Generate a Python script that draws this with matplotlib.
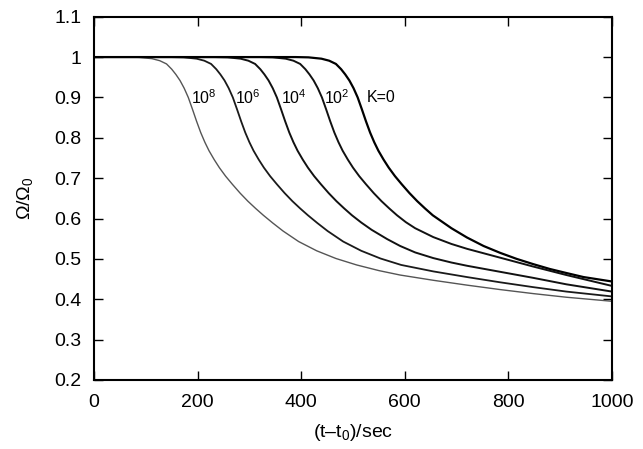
import matplotlib
matplotlib.use("Agg")
import matplotlib.pyplot as plt

plt.rcParams['font.family'] = ['Liberation Sans', 'DejaVu Sans']
plt.rcParams['mathtext.fontset'] = 'custom'
plt.rcParams['mathtext.rm'] = 'Liberation Sans'
plt.rcParams['mathtext.it'] = 'Liberation Sans'

# values (time in s, Omega/Omega_0)
t_k8 = [0, 62, 87, 112, 127, 140, 150, 158, 166, 174, 182, 190, 198, 206, 214, 222, 232, 242, 254, 267, 282,
        297, 312, 327, 345, 365, 395, 430, 467, 507, 550, 591, 655, 720, 784, 848, 912, 1000]
w_k8 = [1.0, 1.0, 0.9993, 0.996, 0.991, 0.983, 0.970, 0.957, 0.942, 0.923, 0.900, 0.871, 0.841, 0.813,
        0.789, 0.768, 0.746, 0.726, 0.705, 0.685, 0.663, 0.643, 0.625, 0.608, 0.589, 0.569, 0.543, 0.520,
        0.501, 0.485, 0.471, 0.460, 0.447, 0.435, 0.424, 0.414, 0.405, 0.395]

t_k6 = [0, 148, 173, 198, 213, 226, 236, 244, 252, 260, 268, 276, 284, 292, 300, 308, 318, 328, 340, 353,
        368, 383, 398, 413, 431, 451, 481, 516, 553, 593, 655, 720, 784, 848, 912, 1000]
w_k6 = [1.0, 1.0, 0.9993, 0.996, 0.991, 0.983, 0.970, 0.957, 0.942, 0.923, 0.900, 0.871, 0.841, 0.813,
        0.789, 0.768, 0.746, 0.726, 0.705, 0.685, 0.663, 0.643, 0.625, 0.608, 0.589, 0.569, 0.543, 0.520,
        0.501, 0.485, 0.469, 0.455, 0.442, 0.430, 0.419, 0.407]

t_k4 = [0, 233, 258, 283, 298, 311, 321, 329, 337, 345, 353, 361, 369, 377, 385, 393, 403, 413, 425, 438,
        453, 468, 483, 498, 516, 536, 566, 591, 620, 655, 690, 720, 784, 848, 912, 1000]
w_k4 = [1.0, 1.0, 0.9993, 0.996, 0.991, 0.983, 0.970, 0.957, 0.942, 0.923, 0.900, 0.871, 0.841, 0.813,
        0.789, 0.768, 0.746, 0.726, 0.705, 0.685, 0.663, 0.643, 0.625, 0.608, 0.590, 0.572, 0.549, 0.532,
        0.516, 0.502, 0.491, 0.483, 0.468, 0.453, 0.437, 0.419]

t_k2 = [0, 320, 345, 370, 385, 398, 408, 416, 424, 432, 440, 448, 456, 464, 472, 480, 490, 500, 512, 525,
        540, 555, 570, 585, 602, 620, 655, 690, 720, 784, 848, 912, 1000]
w_k2 = [1.0, 1.0, 0.9993, 0.996, 0.991, 0.983, 0.970, 0.957, 0.942, 0.923, 0.900, 0.871, 0.841, 0.813,
        0.789, 0.768, 0.746, 0.726, 0.705, 0.685, 0.663, 0.643, 0.625, 0.608, 0.591, 0.576, 0.554, 0.537,
        0.525, 0.503, 0.481, 0.460, 0.433]

t_k0 = [0, 389, 414, 439, 454, 467, 477, 485, 493, 501, 509, 517, 525, 533, 541, 549, 559, 569, 581, 594,
        609, 624, 639, 654, 690, 720, 752, 784, 816, 848, 880, 912, 945, 1000]
w_k0 = [1.0, 1.0, 0.9993, 0.996, 0.991, 0.983, 0.970, 0.957, 0.942, 0.923, 0.900, 0.871, 0.841, 0.813,
        0.789, 0.768, 0.746, 0.726, 0.705, 0.685, 0.663, 0.643, 0.625, 0.608, 0.576, 0.553, 0.532, 0.515,
        0.500, 0.487, 0.475, 0.465, 0.455, 0.444]

curve_labels = ['$10^8$', '$10^6$', '$10^4$', '$10^2$', 'K=0']
label_t = [212, 297, 385, 469, 554]
label_w = 0.90

fig = plt.figure(figsize=(6.43, 4.49), dpi=100)
ax = fig.add_axes([0.1462, 0.1537, 0.8056, 0.8091])

ax.plot(t_k8, w_k8, color='#555555', lw=1.0)
ax.plot(t_k6, w_k6, color='#1a1a1a', lw=1.3)
ax.plot(t_k4, w_k4, color='#111111', lw=1.4)
ax.plot(t_k2, w_k2, color='#111111', lw=1.4)
ax.plot(t_k0, w_k0, color='black', lw=1.6)

for lab, tx in zip(curve_labels, label_t):
    ax.text(tx, label_w, lab, ha='center', va='center', fontsize=11.5)

ax.set_xlim(0, 1000)
ax.set_ylim(0.2, 1.1)
ax.set_xticks([0, 200, 400, 600, 800, 1000])
ax.set_yticks([0.2, 0.3, 0.4, 0.5, 0.6, 0.7, 0.8, 0.9, 1.0, 1.1])
ax.set_yticklabels(['0.2', '0.3', '0.4', '0.5', '0.6', '0.7', '0.8', '0.9', '1', '1.1'])
ax.tick_params(direction='in', length=6.5, width=1.0, top=True, right=True, labelsize=14)
ax.tick_params(axis='y', pad=9)
ax.tick_params(axis='x', pad=10)
for s in ax.spines.values():
    s.set_linewidth(1.5)

ax.set_xlabel('(t\u2013t$_0$)/sec', fontsize=14, labelpad=8)
ax.set_ylabel('\u03a9/\u03a9$_0$', fontsize=14, labelpad=14)

fig.savefig('out.png', dpi=100)
